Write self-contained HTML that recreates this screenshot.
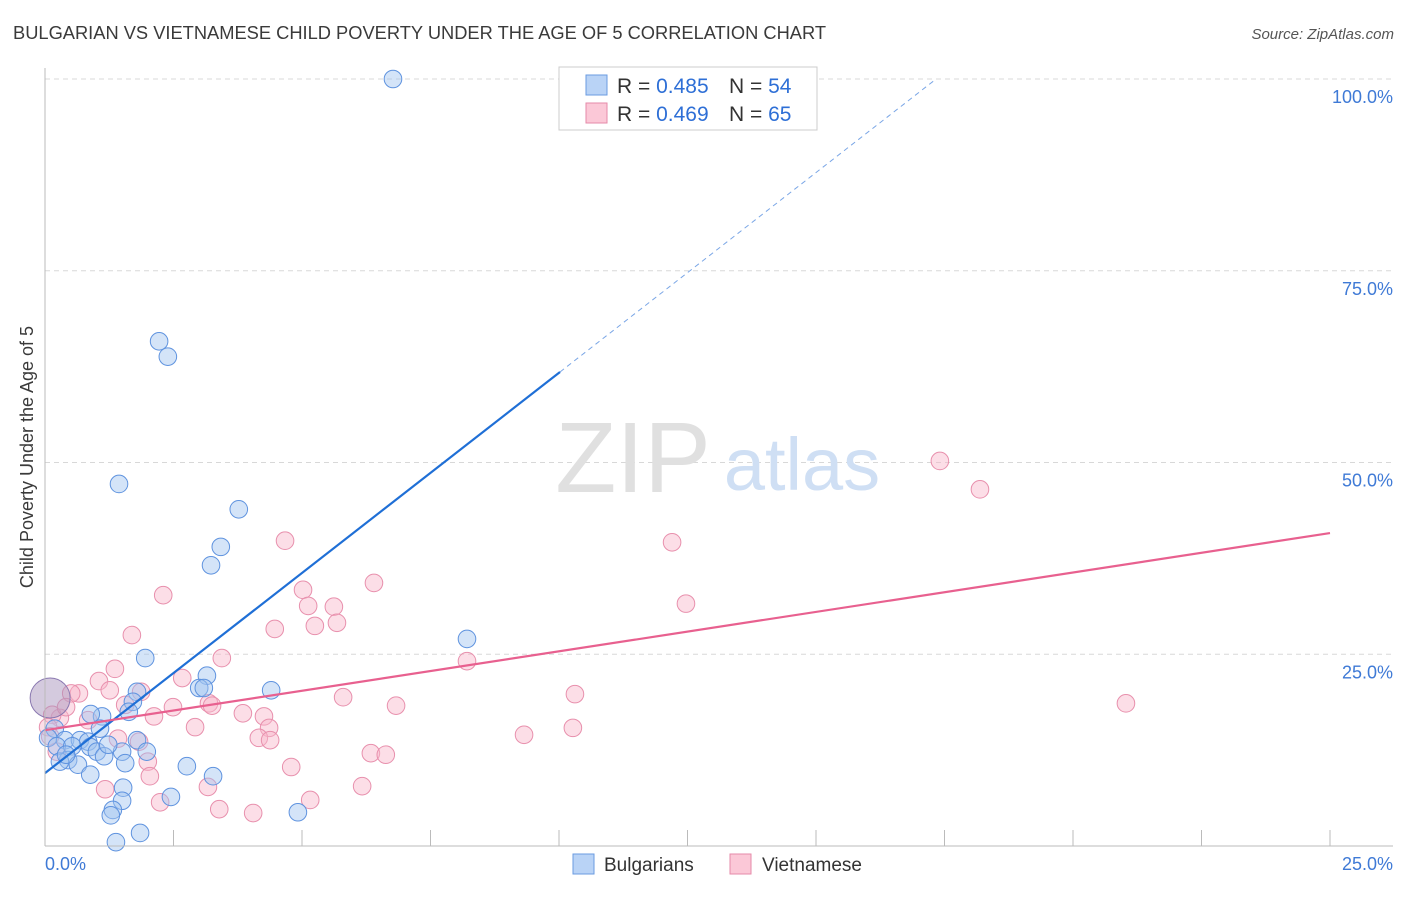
<!DOCTYPE html>
<html><head><meta charset="utf-8">
<style>
body{margin:0;background:#fff;font-family:"Liberation Sans",sans-serif;}
svg text{font-family:"Liberation Sans",sans-serif;}
</style></head>
<body>
<svg id="chart" width="1406" height="892" xmlns="http://www.w3.org/2000/svg">
<text x="13" y="39" font-size="18.3" fill="#3a3a3a">BULGARIAN VS VIETNAMESE CHILD POVERTY UNDER THE AGE OF 5 CORRELATION CHART</text>
<text x="1394" y="39" font-size="15" fill="#555" font-style="italic" text-anchor="end">Source: ZipAtlas.com</text>
<text x="33" y="457" font-size="18" fill="#3a3a3a" text-anchor="middle" transform="rotate(-90 33 457)">Child Poverty Under the Age of 5</text>
<g id="grid"></g>
<g>
<text x="633" y="492" font-size="100" fill="#e0e0e0" font-family="Liberation Serif,serif" text-anchor="middle">ZIP</text>
<text x="802" y="490" font-size="74" fill="#cfdff4" text-anchor="middle">atlas</text>
</g>
<g id="pts"></g>
<g id="lines"></g>
<g id="axes"></g>
<g>
<rect x="559" y="67" width="258" height="63" fill="#fff" stroke="#ccc"/>
<rect x="586" y="75" width="21" height="20" fill="#b9d3f6" stroke="#6a9be0"/>
<rect x="586" y="103" width="21" height="20" fill="#fbc8d7" stroke="#e68aa8"/>
<text x="617" y="93" font-size="21" fill="#333">R = <tspan fill="#2e6fd6">0.485</tspan><tspan x="729">N = </tspan><tspan fill="#2e6fd6">54</tspan></text>
<text x="617" y="121" font-size="21" fill="#333">R = <tspan fill="#2e6fd6">0.469</tspan><tspan x="729">N = </tspan><tspan fill="#2e6fd6">65</tspan></text>
</g>
<g>
<rect x="573" y="854" width="21" height="20" fill="#b9d3f6" stroke="#6a9be0"/>
<text x="604" y="871" font-size="19" fill="#333">Bulgarians</text>
<rect x="730" y="854" width="21" height="20" fill="#fbc8d7" stroke="#e68aa8"/>
<text x="762" y="871" font-size="19" fill="#333">Vietnamese</text>
</g>
</svg>
<script>
const bulX=[6.77,2.22,2.39,1.44,3.77,3.42,3.23,1.95,8.21,3.15,3.00,3.09,4.40,1.79,1.71,1.63,1.11,0.89,0.19,1.07,0.06,0.39,0.68,0.84,0.23,0.53,0.88,1.79,1.98,1.01,1.15,1.50,0.45,0.29,0.64,0.88,1.56,2.76,3.27,1.52,1.50,1.32,1.28,2.45,4.92,1.85,1.38,0.41,1.23];
const bulY=[100.0,65.8,63.8,47.2,43.9,39.0,36.6,24.5,27.0,22.2,20.6,20.6,20.3,20.1,18.8,17.5,16.9,17.2,15.3,15.3,14.1,13.8,13.8,13.6,13.0,13.0,12.9,13.8,12.3,12.3,11.7,12.3,11.2,11.0,10.6,9.3,10.8,10.4,9.1,7.6,5.9,4.7,4.0,6.4,4.4,1.7,0.5,11.9,13.2];
const vieX=[17.41,18.19,12.20,12.47,21.03,4.67,2.30,5.02,5.12,5.62,5.68,5.25,6.40,4.47,1.69,3.44,2.67,1.36,1.05,0.66,1.26,1.87,2.49,3.19,3.25,1.56,2.12,3.85,4.26,4.36,4.16,4.38,2.92,1.42,1.83,2.00,2.04,4.79,5.80,6.83,8.21,10.31,10.27,9.32,6.34,6.63,6.17,5.16,4.05,3.39,3.17,2.24,1.17,0.51,0.84,0.29,0.14,0.41,0.06,0.10,0.23];
const vieY=[50.2,46.5,39.6,31.6,18.6,39.8,32.7,33.4,31.3,31.2,29.1,28.7,34.3,28.3,27.5,24.5,21.9,23.1,21.5,19.9,20.3,20.1,18.1,18.6,18.3,18.4,16.9,17.3,16.9,15.4,14.1,13.8,15.5,14.0,13.6,11.0,9.1,10.3,19.4,18.3,24.1,19.8,15.4,14.5,12.1,11.9,7.8,6.0,4.3,4.8,7.7,5.7,7.4,19.9,16.4,16.7,17.1,18.1,15.5,14.3,12.3];
const bulLine=[9.5,5.22];
const vieLine=[15.1,1.028];
const yTicks=[25,50,75,100];
const NS="http://www.w3.org/2000/svg";
const X=v=>45+v/25*1285, Y=v=>846-v/100*767;
function mk(tag,attrs,parent){const e=document.createElementNS(NS,tag);for(const k in attrs)e.setAttribute(k,attrs[k]);parent.appendChild(e);return e;}
const grid=document.getElementById('grid'),axes=document.getElementById('axes'),pts=document.getElementById('pts'),lines=document.getElementById('lines');
yTicks.forEach(t=>{
 const l=mk('line',{x1:45,x2:1393,y1:Y(t),y2:Y(t),stroke:'#d8d8d8','stroke-dasharray':'5,4'},grid);
 
 
 const tx=mk('text',{x:1393,y:Y(t)+24,'font-size':18,fill:'#3f7ad6','text-anchor':'end'},axes);
 tx.textContent=t.toFixed(1)+'%';
 
 
});
mk('line',{x1:45,x2:45,y1:68,y2:846,stroke:'#bbb'},axes);
mk('line',{x1:45,x2:1393,y1:846,y2:846,stroke:'#bbb'},axes);
for(let i=1;i<=10;i++){const xx=X(i*2.5);mk('line',{x1:xx,x2:xx,y1:830,y2:846,stroke:'#bbb'},axes);}
const xl=mk('text',{x:45,y:870,'font-size':18,fill:'#3f7ad6'},axes);xl.textContent='0.0%';


const xr=mk('text',{x:1393,y:870,'font-size':18,fill:'#3f7ad6','text-anchor':'end'},axes);xr.textContent='25.0%';


vieX.forEach((v,i)=>{const c=mk('circle',{cx:X(v),cy:Y(vieY[i]),r:8.8,fill:'rgba(248,182,202,0.45)',stroke:'#e890ad','stroke-width':1},pts);
 
 });
bulX.forEach((v,i)=>{const c=mk('circle',{cx:X(v),cy:Y(bulY[i]),r:8.8,fill:'rgba(160,196,240,0.45)',stroke:'#5f93df','stroke-width':1},pts);
 
 });
const big=mk('circle',{cx:X(0.1),cy:Y(19.3),r:20,fill:'rgba(170,150,190,0.5)',stroke:'#8a78b0'},pts);


const bEnd=10.02, bTop=(100-bulLine[0])/bulLine[1];
const bl=mk('line',{x1:X(0),y1:Y(bulLine[0]),x2:X(bEnd),y2:Y(bulLine[0]+bulLine[1]*bEnd),stroke:'#1f6fd6','stroke-width':2.2},lines);


const bd=mk('line',{x1:X(bEnd),y1:Y(bulLine[0]+bulLine[1]*bEnd),x2:X(bTop),y2:Y(100),stroke:'#7aa6e6','stroke-width':1,'stroke-dasharray':'5,4'},lines);


const vl=mk('line',{x1:X(0),y1:Y(vieLine[0]),x2:X(25),y2:Y(vieLine[0]+vieLine[1]*25),stroke:'#e8608f','stroke-width':2.2},lines);


</script>
</body></html>
